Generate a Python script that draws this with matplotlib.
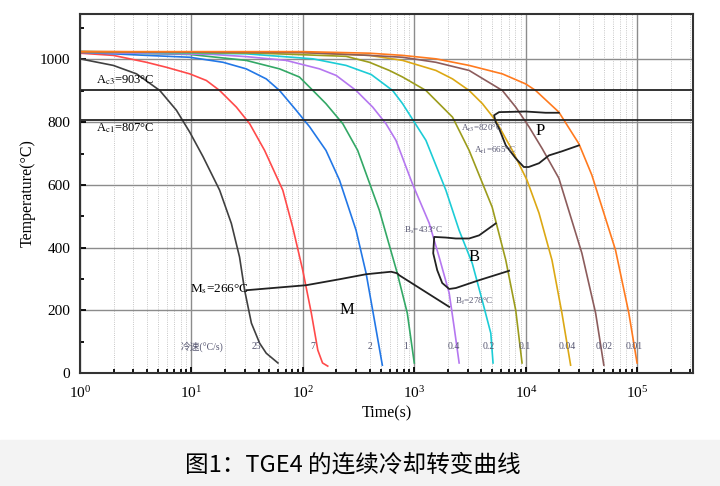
import matplotlib
matplotlib.use("Agg")
import matplotlib.pyplot as plt
from matplotlib.ticker import LogLocator, MultipleLocator, NullFormatter
from matplotlib.patches import Rectangle

plt.rcParams['font.family'] = ['Liberation Serif', 'Noto Sans CJK SC']
plt.rcParams['mathtext.fontset'] = 'stix'

# cooling curves (time in s, temperature in C)
rates = ['25', '7', '2', '1', '0.4', '0.2', '0.1', '0.04', '0.02', '0.01']

time_25 = [1, 1.99, 3.22, 5.2, 7.33, 9.66, 12.7, 17.9, 22.8, 27, 30, 34.5, 40.9, 46.9, 59.7]
temp_25 = [1002, 981, 954, 901, 838, 768, 690, 583, 477, 370, 264, 159, 95, 63, 32]

time_7 = [1, 1.99, 3.95, 5.97, 9.66, 13.6, 17.9, 25.3, 33.3, 45.3, 66, 81, 99.6, 119, 136, 150, 167]
temp_7 = [1020, 1013, 991, 975, 954, 933, 901, 848, 795, 710, 583, 465, 328, 191, 73, 32, 22]

time_2 = [1, 3.95, 9.66, 19.2, 31, 46.9, 61.7, 87, 115, 161, 213, 300, 369, 438, 516]
temp_2 = [1023, 1013, 1007, 991, 970, 938, 901, 838, 785, 710, 615, 455, 318, 169, 25]

time_1 = [1, 9.66, 31, 61.7, 93, 123, 161, 228, 310, 485, 703, 864, 998]
temp_1 = [1023, 1016, 997, 970, 944, 901, 859, 795, 710, 519, 318, 191, 32]

time_04 = [1, 15.6, 31, 70.8, 141, 199, 300, 423, 556, 684, 957, 1358, 1671, 2053, 2275, 2522]
temp_04 = [1023, 1016, 1009, 997, 970, 949, 901, 848, 795, 742, 605, 478, 369, 255, 146, 32]

time_02 = [1, 31, 123, 244, 410, 638, 784, 1270, 1918, 2522, 3306, 4060, 4850, 5080]
temp_02 = [1025, 1018, 1002, 981, 952, 901, 859, 742, 583, 455, 350, 232, 127, 32]

time_01 = [1, 41, 244, 395, 596, 784, 1270, 2200, 3100, 4990, 6610, 8120, 9250]
temp_01 = [1025, 1020, 1010, 991, 965, 944, 901, 816, 710, 529, 360, 200, 32]

time_004 = [1, 100, 395, 784, 1560, 2200, 3100, 4080, 5370, 7570, 10250, 13130, 17170, 21080, 25230]
temp_004 = [1025, 1022, 1013, 997, 965, 938, 901, 859, 805, 710, 615, 510, 360, 191, 25]

time_002 = [1, 100, 395, 784, 1560, 3100, 6160, 8120, 10690, 14060, 19800, 31850, 42300, 50100]
temp_002 = [1025, 1022, 1013, 1007, 991, 965, 901, 848, 785, 715, 621, 382, 191, 25]

time_001 = [1, 100, 395, 784, 1560, 3100, 6160, 9970, 12250, 19800, 29950, 39150, 63800, 84000, 99600]
temp_001 = [1025, 1025, 1020, 1013, 1002, 981, 954, 922, 901, 832, 731, 631, 392, 191, 32]

# transformation lines
ms_time = [31.1, 107, 213, 369, 618, 703, 730, 2053]
ms_temp = [264, 280, 299, 315, 323, 318, 312, 211]

bs_time = [5370, 3810, 3100, 2355, 1918, 1507, 1476, 1603, 1778, 2053, 2355, 3810, 7080]
bs_temp = [477, 439, 429, 429, 432, 434, 382, 328, 287, 268, 271, 296, 326]

p_time = [19800, 15060, 9970, 5750, 5190, 5370, 5750, 6610, 8100, 9590, 10610, 13130, 16130, 21080, 29950]
p_temp = [830, 830, 834, 832, 822, 800, 780, 726, 685, 657, 657, 669, 694, 707, 726]

ac3 = 903
ac1 = 807

curves = [(time_25, temp_25), (time_7, temp_7), (time_2, temp_2), (time_1, temp_1),
          (time_04, temp_04), (time_02, temp_02), (time_01, temp_01),
          (time_004, temp_004), (time_002, temp_002), (time_001, temp_001)]
colors = ['#404040', '#ff4a4a', '#2277e6', '#33a866', '#b577f0', '#1cccd6',
          '#9c9c1c', '#dca814', '#8c5c5c', '#ff7a1e']

fig = plt.figure(figsize=(7.2, 4.86), dpi=100)
fig.patches.append(Rectangle((0, 0), 1, 46 / 486, transform=fig.transFigure,
                             color='#f3f3f3', zorder=-1))
ax = fig.add_axes([80 / 720, 113 / 486, 613 / 720, 359 / 486])

ax.set_xscale('log')
ax.set_xlim(1, 10 ** 5.5)
ax.set_ylim(0, 1145)

ax.xaxis.set_major_locator(LogLocator(base=10, numticks=10))
ax.xaxis.set_minor_locator(LogLocator(base=10, subs=range(2, 10), numticks=20))
ax.xaxis.set_minor_formatter(NullFormatter())
ax.yaxis.set_major_locator(MultipleLocator(200))
ax.yaxis.set_minor_locator(MultipleLocator(100))

ax.grid(which='major', color='#8c8c8c', lw=1.0)
ax.grid(which='minor', axis='x', color='#b4b4b4', lw=0.6, ls=':')
ax.set_axisbelow(True)

ax.tick_params(which='both', direction='in', labelsize=11, width=1.3)
ax.tick_params(which='major', length=4)
ax.tick_params(which='minor', length=3)
ax.tick_params(axis='x', pad=9)
ax.tick_params(axis='y', pad=7)
for s in ax.spines.values():
    s.set_color('#333333')
    s.set_linewidth(1.5)

for (tt, TT), c in zip(curves, colors):
    ax.plot(tt, TT, color=c, lw=1.2)

ax.axhline(ac3, color='#222222', lw=1.3)
ax.axhline(ac1, color='#222222', lw=1.3)
ax.plot(ms_time, ms_temp, color='#222222', lw=1.3)
ax.plot(bs_time, bs_temp, color='#222222', lw=1.3)
ax.plot(p_time, p_temp, color='#222222', lw=1.3)

# text annotations
lab_c = '#555570'
ax.text(1.4, ac3 + 30, r'A$_{\rm c3}$=%d°C' % ac3, fontsize=9, va='center')
ax.text(1.4, ac1 - 25, r'A$_{\rm c1}$=%d°C' % ac1, fontsize=9, va='center')
ax.text(33, 266, r'M$_{\rm s}$=266°C', fontsize=9.5, ha='right', va='center')
ax.text(1780, 455, r'B$_{\rm s}$=433°C', fontsize=6.5, ha='right', va='center', color=lab_c)
ax.text(2322, 229, r'B$_{\rm f}$=278°C', fontsize=6.5, ha='left', va='center', color=lab_c)
ax.text(2630, 780, r'A$_{\rm r3}$=820°C', fontsize=6.5, ha='left', va='center', color=lab_c)
ax.text(3440, 710, r'A$_{\rm r1}$=665°C', fontsize=6.5, ha='left', va='center', color=lab_c)
ax.text(246, 200, 'M', fontsize=12, ha='center', va='center')
ax.text(3440, 369, 'B', fontsize=12, ha='center', va='center')
ax.text(13400, 771, 'P', fontsize=12, ha='center', va='center')

rate_x = [38.4, 122, 403, 829, 2275, 4690, 9840, 23370, 50100, 93000]
ax.text(12.4, 83, '冷速(°C/s)', fontsize=7, ha='center', va='center', color=lab_c)
for x, r in zip(rate_x, rates):
    ax.text(x, 83, r, fontsize=7, ha='center', va='center', color=lab_c)

ax.set_xlabel('Time(s)', fontsize=11.5, labelpad=3)
ax.set_ylabel('Temperature(°C)', fontsize=11.5, labelpad=3)

fig.text(0.49, 21 / 486, '图1：TGE4 的连续冷却转变曲线', fontsize=17,
         ha='center', va='center', family=['Noto Sans CJK SC', 'DejaVu Sans'])

fig.savefig('out.png', dpi=100)
